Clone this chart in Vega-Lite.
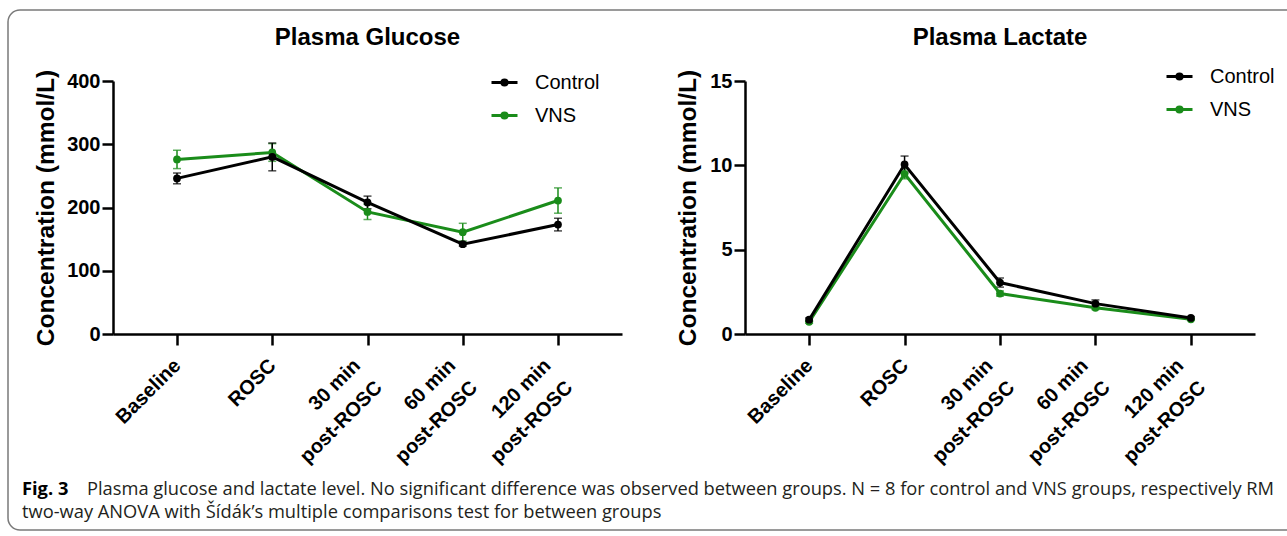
{
  "$schema": "https://vega.github.io/schema/vega-lite/v6.json",
  "autosize": {"type": "none"},
  "padding": {"left": 8, "top": 10, "right": 1279, "bottom": 526},
  "background": "white",
  "datasets": {
    "glucose": [
      {"time": "Baseline", "group": "VNS", "mean": 276, "sem": 14.5},
      {"time": "ROSC", "group": "VNS", "mean": 287, "sem": 14},
      {"time": "30 min post-ROSC", "group": "VNS", "mean": 193, "sem": 12},
      {"time": "60 min post-ROSC", "group": "VNS", "mean": 161, "sem": 14},
      {"time": "120 min post-ROSC", "group": "VNS", "mean": 211, "sem": 20},
      {"time": "Baseline", "group": "Control", "mean": 246, "sem": 8.5},
      {"time": "ROSC", "group": "Control", "mean": 280, "sem": 22},
      {"time": "30 min post-ROSC", "group": "Control", "mean": 208, "sem": 10},
      {"time": "60 min post-ROSC", "group": "Control", "mean": 142, "sem": 3},
      {"time": "120 min post-ROSC", "group": "Control", "mean": 173, "sem": 10}
    ],
    "lactate": [
      {"time": "Baseline", "group": "VNS", "mean": 0.72, "sem": 0.08},
      {"time": "ROSC", "group": "VNS", "mean": 9.5, "sem": 0.3},
      {"time": "30 min post-ROSC", "group": "VNS", "mean": 2.4, "sem": 0.15},
      {"time": "60 min post-ROSC", "group": "VNS", "mean": 1.55, "sem": 0.1},
      {"time": "120 min post-ROSC", "group": "VNS", "mean": 0.87, "sem": 0.06},
      {"time": "Baseline", "group": "Control", "mean": 0.85, "sem": 0.1},
      {"time": "ROSC", "group": "Control", "mean": 10.05, "sem": 0.5},
      {"time": "30 min post-ROSC", "group": "Control", "mean": 3.05, "sem": 0.27},
      {"time": "60 min post-ROSC", "group": "Control", "mean": 1.8, "sem": 0.22},
      {"time": "120 min post-ROSC", "group": "Control", "mean": 0.95, "sem": 0.08}
    ]
  },
  "vconcat": [
    {
      "vconcat": [
        {
          "width": 1, "height": 70,
          "data": {"values": [{"t": ""}]},
          "mark": {"type": "text"},
          "encoding": {"text": {"field": "t"}}
        },
        {
          "hconcat": [
            {
              "width": 1, "height": 1,
              "data": {"values": [{"t": ""}]},
              "mark": {"type": "text"},
              "encoding": {"text": {"field": "t"}}
            },
            {
              "vconcat": [
                {
                  "hconcat": [
                    {
                      "width": 509,
                      "height": 253,
                      "data": {"name": "glucose"},
                      "title": {"text": "Plasma Glucose", "offset": 18},
                      "encoding": {
                        "x": {
                          "field": "time", "type": "ordinal",
                          "sort": ["Baseline", "ROSC", "30 min post-ROSC", "60 min post-ROSC", "120 min post-ROSC"],
                          "scale": {"type": "point", "padding": 0.672},
                          "axis": {"title": null, "labelExpr": "indexof(datum.label, ' post') > 0 ? [replace(datum.label, ' post-ROSC', ''), 'post-ROSC'] : datum.label"}
                        },
                        "y": {
                          "field": "mean", "type": "quantitative",
                          "scale": {"domain": [0, 400], "nice": false},
                          "axis": {"title": "Concentration (mmol/L)", "values": [0, 100, 200, 300, 400], "titlePadding": 8}
                        },
                        "color": {
                          "field": "group", "type": "nominal",
                          "scale": {"domain": ["Control", "VNS"], "range": ["#000000", "#1a8c1a"]},
                          "legend": {
                            "orient": "none", "legendX": 377, "legendY": -13, "title": null, "padding": 0,
                            "symbolType": "M-1,0L1,0M-0.2,0A0.2,0.2,0,1,0,0.2,0A0.2,0.2,0,1,0,-0.2,0Z",
                            "symbolSize": 676, "symbolStrokeWidth": 3,
                            "labelFont": "Liberation Sans", "labelFontSize": 20, "labelColor": "#000", "labelOffset": 16, "rowPadding": 8,
                            "encode": {"symbols": {"update": {"fill": {"scale": "color", "field": "value"}, "stroke": {"scale": "color", "field": "value"}, "opacity": {"value": 1}}}}
                          }
                        }
                      },
                      "layer": [
                        {"mark": {"type": "errorbar", "ticks": true, "size": 8, "thickness": 1.5}, "encoding": {"yError": {"field": "sem"}}},
                        {"mark": {"type": "line", "strokeWidth": 3}},
                        {"mark": {"type": "point", "filled": true, "size": 60, "opacity": 1}}
                      ]
                    },
                    {
                      "width": 510,
                      "height": 253,
                      "data": {"name": "lactate"},
                      "title": {"text": "Plasma Lactate", "offset": 12},
                      "encoding": {
                        "x": {
                          "field": "time", "type": "ordinal",
                          "sort": ["Baseline", "ROSC", "30 min post-ROSC", "60 min post-ROSC", "120 min post-ROSC"],
                          "scale": {"type": "point", "padding": 0.672},
                          "axis": {"title": null, "labelExpr": "indexof(datum.label, ' post') > 0 ? [replace(datum.label, ' post-ROSC', ''), 'post-ROSC'] : datum.label"}
                        },
                        "y": {
                          "field": "mean", "type": "quantitative",
                          "scale": {"domain": [0, 15], "nice": false},
                          "axis": {"title": "Concentration (mmol/L)", "values": [0, 5, 10, 15], "titlePadding": 9}
                        },
                        "color": {
                          "field": "group", "type": "nominal",
                          "scale": {"domain": ["Control", "VNS"], "range": ["#000000", "#1a8c1a"]},
                          "legend": {
                            "orient": "none", "legendX": 420, "legendY": -19, "title": null, "padding": 0,
                            "symbolType": "M-1,0L1,0M-0.2,0A0.2,0.2,0,1,0,0.2,0A0.2,0.2,0,1,0,-0.2,0Z",
                            "symbolSize": 676, "symbolStrokeWidth": 3,
                            "labelFont": "Liberation Sans", "labelFontSize": 20, "labelColor": "#000", "labelOffset": 16, "rowPadding": 8,
                            "encode": {"symbols": {"update": {"fill": {"scale": "color", "field": "value"}, "stroke": {"scale": "color", "field": "value"}, "opacity": {"value": 1}}}}
                          }
                        }
                      },
                      "layer": [
                        {"mark": {"type": "errorbar", "ticks": true, "size": 8, "thickness": 1.5}, "encoding": {"yError": {"field": "sem"}}},
                        {"mark": {"type": "line", "strokeWidth": 3}},
                        {"mark": {"type": "point", "filled": true, "size": 60, "opacity": 1}}
                      ]
                    }
                  ],
                  "spacing": 123,
                  "bounds": "flush",
                  "resolve": {"legend": {"color": "independent"}}
                },
                {
                  "hconcat": [
                    {
                      "width": 1, "height": 1,
                      "data": {"values": [{"t": ""}]},
                      "mark": {"type": "text"},
                      "encoding": {"text": {"field": "t"}},
                      "title": {
                        "text": "Fig. 3",
                        "subtitle": "two-way ANOVA with Šídák’s multiple comparisons test for between groups",
                        "orient": "bottom", "anchor": "start", "frame": "group", "baseline": "alphabetic", "offset": 0, "dx": -91,
                        "font": "Open Sans", "fontSize": 18.3, "fontWeight": "bold", "color": "#000",
                        "subtitleFont": "Open Sans", "subtitleFontSize": 18.3, "subtitleFontWeight": "normal", "subtitleColor": "#231f20", "subtitlePadding": 4.7
                      }
                    },
                    {
                      "width": 1, "height": 1,
                      "data": {"values": [{"t": ""}]},
                      "mark": {"type": "text"},
                      "encoding": {"text": {"field": "t"}},
                      "title": {
                        "text": "Plasma glucose and lactate level. No significant difference was observed between groups. N = 8 for control and VNS groups, respectively RM",
                        "orient": "bottom", "anchor": "start", "frame": "group", "baseline": "alphabetic", "offset": 0, "dx": -27,
                        "font": "Open Sans", "fontSize": 18.3, "fontWeight": "normal", "color": "#231f20"
                      }
                    }
                  ],
                  "spacing": 0,
                  "bounds": "flush"
                }
              ],
              "spacing": 408,
              "bounds": "flush"
            }
          ],
          "spacing": 104,
          "bounds": "flush"
        }
      ],
      "spacing": 1,
      "bounds": "flush"
    },
    {
      "width": 1300, "height": 520,
      "data": {"values": [{"t": ""}]},
      "mark": {"type": "text"},
      "encoding": {"text": {"field": "t"}},
      "view": {"stroke": "#7a7a7a", "strokeWidth": 1.5, "cornerRadius": 12, "fill": null}
    }
  ],
  "spacing": 0,
  "bounds": "flush",
  "config": {
    "view": {"stroke": null},
    "font": "Liberation Sans",
    "axis": {
      "domainColor": "#000", "domainWidth": 2.5, "tickColor": "#000", "tickWidth": 2.5,
      "labelColor": "#000", "labelFont": "Liberation Sans", "labelFontWeight": "bold", "labelFontSize": 20,
      "titleFont": "Liberation Sans", "titleFontWeight": "bold", "titleFontSize": 24.5, "titleColor": "#000",
      "grid": false
    },
    "axisX": {
      "tickSize": 11, "labelAngle": -45, "labelAlign": "right", "labelBaseline": "top", "labelPadding": 10,
      "labelOffset": {"condition": {"test": "indexof(datum.value, 'post') >= 0", "value": -18}, "value": -7},
      "labelLineHeight": 31
    },
    "axisY": {"tickSize": 11, "labelPadding": 2},
    "title": {"font": "Liberation Sans", "fontSize": 24, "fontWeight": "bold", "color": "#000", "anchor": "middle", "frame": "group", "baseline": "alphabetic"}
  }
}
